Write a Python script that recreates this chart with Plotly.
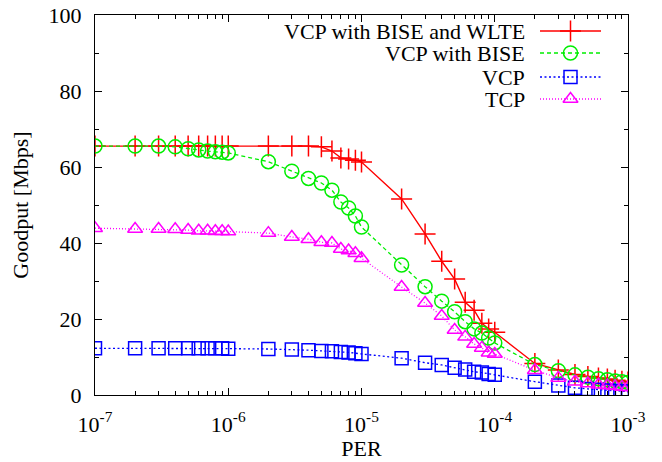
import plotly.graph_objects as go

per = [1e-7, 2e-7, 3e-7, 4e-7, 5e-7, 6e-7, 7e-7, 8e-7, 9e-7,
       1e-6, 2e-6, 3e-6, 4e-6, 5e-6, 6e-6, 7e-6, 8e-6, 9e-6,
       1e-5, 2e-5, 3e-5, 4e-5, 5e-5, 6e-5, 7e-5, 8e-5, 9e-5,
       1e-4, 2e-4, 3e-4, 4e-4, 5e-4, 6e-4, 7e-4, 8e-4, 9e-4,
       1e-3]

vcp_bise_wlte = [65.5, 65.5, 65.5, 65.5, 65.5, 65.5, 65.5, 65.5, 65.5, 65.5,
                 65.5, 65.5, 65.5, 65.3, 64.2, 62.4, 62.1, 61.8, 61.3,
                 51.6, 42.4, 35.2, 30.5, 24.4, 22.3, 18.9, 17.4, 16.5,
                 8.3, 6.6, 5.4, 4.9, 4.5, 4.2, 3.9, 3.6, 3.4]
vcp_bise = [65.5, 65.5, 65.5, 65.3, 64.8, 64.5, 64.2, 64.0, 63.9, 63.7,
            61.4, 58.9, 57.0, 55.8, 53.9, 50.8, 49.2, 47.1, 44.2,
            34.2, 28.5, 24.7, 21.9, 19.3, 17.4, 16.3, 15.0, 13.7,
            8.0, 6.4, 5.3, 4.7, 4.3, 4.0, 3.7, 3.5, 3.3]
vcp = [12.3, 12.3, 12.3, 12.3, 12.3, 12.3, 12.3, 12.3, 12.3, 12.2,
       12.1, 12.0, 11.8, 11.6, 11.5, 11.3, 11.2, 11.0, 10.8,
       9.7, 8.5, 7.9, 7.2, 6.7, 6.1, 5.9, 5.5, 5.3,
       3.5, 2.5, 1.9, 1.6, 1.4, 1.2, 1.1, 1.0, 0.9]
tcp = [43.9, 43.7, 43.7, 43.6, 43.4, 43.2, 43.2, 43.1, 43.1, 43.0,
       42.6, 41.6, 41.0, 40.2, 40.0, 38.4, 38.0, 37.3, 36.0,
       28.4, 24.2, 20.8, 17.1, 15.3, 13.4, 12.4, 11.1, 10.8,
       6.5, 4.5, 3.5, 3.0, 2.7, 2.5, 2.3, 2.1, 2.0]

names = ["VCP with BISE and WLTE", "VCP with BISE", "VCP", "TCP"]
x_tickvals = [1e-7, 1e-6, 1e-5, 1e-4, 1e-3]
x_ticktext = ["10<sup>-7</sup>", "10<sup>-6</sup>", "10<sup>-5</sup>",
              "10<sup>-4</sup>", "10<sup>-3</sup>"]
x_minor = [m * d for d in [1e-7, 1e-6, 1e-5, 1e-4] for m in range(2, 10)]
y_tickvals = [0, 20, 40, 60, 80, 100]
y_minor = [10, 30, 50, 70, 90]

styles = [
    dict(color="#ff0000", dash="solid", symbol="cross-thin-open", size=15, lw=1.4),
    dict(color="#00ee00", dash="4px,3px", symbol="circle-open", size=14, lw=1.3),
    dict(color="#0000ff", dash="2px,2.5px", symbol="square-open", size=13, lw=1.3),
    dict(color="#ff00ff", dash="1px,2px", symbol="triangle-up-open", size=13, lw=1.3),
]
series = [vcp_bise_wlte, vcp_bise, vcp, tcp]

FONT = "Liberation Serif, Times New Roman, serif"
FS = 22
W, H = 662, 462
L, R, T, B = 95, 34, 15, 67

fig = go.Figure()
for name, ys, st in zip(names, series, styles):
    fig.add_trace(go.Scatter(
        x=per, y=ys, mode="lines+markers", name=name, showlegend=False,
        line=dict(color=st["color"], width=st["lw"], dash=st["dash"]),
        marker=dict(symbol=st["symbol"], size=st["size"], color=st["color"],
                    line=dict(color=st["color"], width=1.5)),
    ))

# gnuplot-style key: text on the left, line sample on the right
leg_rows = [31, 53, 77, 99]
for name, st, py in zip(names, styles, leg_rows):
    yy = H - py
    fig.add_trace(go.Scatter(
        x=[540, 601], y=[yy, yy], mode="lines", xaxis="x2", yaxis="y2",
        showlegend=False, hoverinfo="skip",
        line=dict(color=st["color"], width=st["lw"], dash=st["dash"])))
    fig.add_trace(go.Scatter(
        x=[570.5], y=[yy], mode="markers", xaxis="x2", yaxis="y2",
        showlegend=False, hoverinfo="skip",
        marker=dict(symbol=st["symbol"], size=st["size"], color=st["color"],
                    line=dict(color=st["color"], width=1.5))))
    fig.add_annotation(x=527, y=yy, xref="x2", yref="y2", text=name,
                       showarrow=False, xanchor="right", yanchor="middle",
                       font=dict(family=FONT, size=FS, color="black"))

fig.update_layout(
    width=W, height=H,
    margin=dict(l=L, r=R, t=T, b=B, pad=0, autoexpand=False),
    paper_bgcolor="white", plot_bgcolor="white",
    font=dict(family=FONT, size=FS, color="black"),
    xaxis=dict(
        type="log", range=[-7, -3], automargin=False,
        tickmode="array", tickvals=x_tickvals, ticktext=x_ticktext,
        ticks="inside", ticklen=7, tickwidth=1, tickcolor="black",
        minor=dict(tickmode="array", tickvals=x_minor, ticks="inside",
                   ticklen=4, tickwidth=1, tickcolor="black", showgrid=False),
        showline=True, linecolor="black", linewidth=1.2, mirror="allticks",
        showgrid=False, zeroline=False,
        ticklabelstandoff=9,
        title=dict(text="PER", font=dict(size=FS), standoff=5),
        tickfont=dict(size=FS),
    ),
    yaxis=dict(
        range=[0, 100], automargin=False,
        tickmode="array", tickvals=y_tickvals,
        ticks="inside", ticklen=7, tickwidth=1, tickcolor="black",
        minor=dict(tickmode="array", tickvals=y_minor, ticks="inside",
                   ticklen=4, tickwidth=1, tickcolor="black", showgrid=False),
        showline=True, linecolor="black", linewidth=1.2, mirror="allticks",
        showgrid=False, zeroline=False,
        ticklabelstandoff=8,
        title=dict(text="Goodput [Mbps]", font=dict(size=FS), standoff=13),
        tickfont=dict(size=FS),
    ),
    xaxis2=dict(range=[L, W - R], overlaying="x", anchor="y2", visible=False,
                fixedrange=True),
    yaxis2=dict(range=[B, H - T], overlaying="y", anchor="x2", visible=False,
                fixedrange=True),
)

fig.write_html("out.html")
